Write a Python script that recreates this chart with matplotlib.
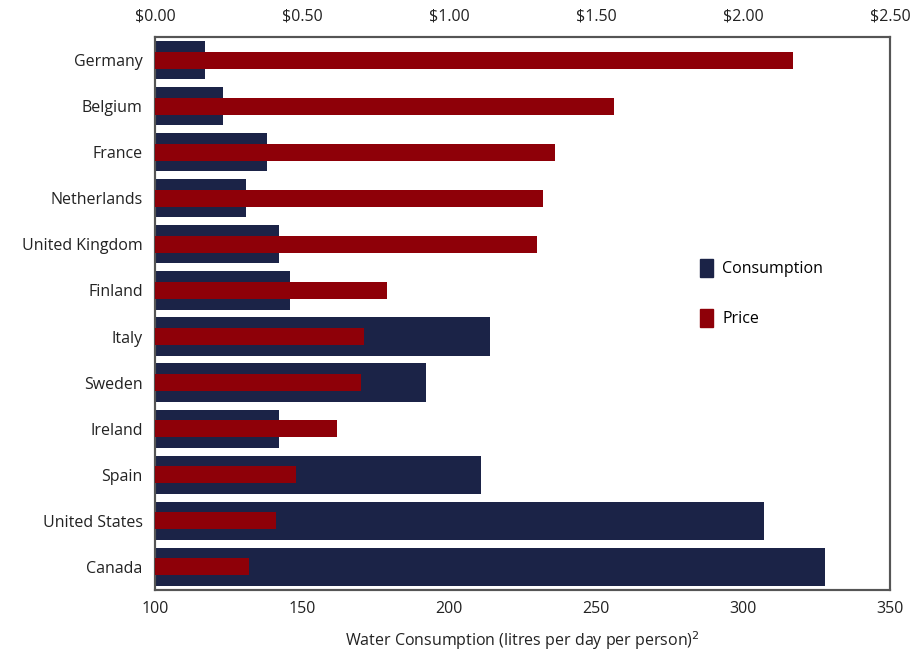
import matplotlib.pyplot as plt
import numpy as np
from matplotlib.patches import Patch

# ---------------------- data ----------------------
countries = ["Germany", "Belgium", "France", "Netherlands", "United Kingdom", "Finland",
             "Italy", "Sweden", "Ireland", "Spain", "United States", "Canada"]
consumption = [117, 123, 138, 131, 142, 146, 214, 192, 142, 211, 307, 328]
price = [2.17, 1.56, 1.36, 1.32, 1.30, 0.79, 0.71, 0.70, 0.62, 0.48, 0.41, 0.32]

navy = "#1b2347"
red = "#8e0008"
fs = 11.5

plt.rcParams['font.family'] = ['Open Sans', 'DejaVu Sans']

fig, ax = plt.subplots(figsize=(9.18, 6.57), dpi=100)
fig.subplots_adjust(left=0.169, right=0.9695, top=0.9437, bottom=0.102)

y = np.arange(len(countries))

# consumption bars start at 100 on the bottom axis
ax.barh(y, np.array(consumption) - 100, left=100, height=0.83, color=navy, zorder=2)
ax.set_xlim(100, 350)
ax.set_ylim(len(countries) - 0.5, -0.5)
ax.set_yticks(y)
ax.set_yticklabels(countries, fontsize=fs, color="#222222")
ax.set_xticks([100, 150, 200, 250, 300, 350])
ax.tick_params(axis='both', length=0, labelsize=fs, colors="#222222")
ax.tick_params(axis='x', pad=8)
ax.tick_params(axis='y', pad=9)
ax.set_xlabel("Water Consumption (litres per day per person)$^{2}$", fontsize=fs,
              color="#222222", labelpad=9)

# price on the top axis
ax2 = ax.twiny()
ax2.barh(y, price, height=0.37, color=red, zorder=3)
ax2.set_xlim(0, 2.5)
ax2.set_xticks([0, 0.5, 1.0, 1.5, 2.0, 2.5])
ax2.set_xticklabels([f"${v:.2f}" for v in [0, 0.5, 1.0, 1.5, 2.0, 2.5]])
ax2.tick_params(axis='x', length=0, labelsize=fs, colors="#222222", pad=9)

for a in (ax, ax2):
    for s in a.spines.values():
        s.set_color("#555555")
        s.set_linewidth(1.5)

handles = [Patch(color=navy, label="Consumption"), Patch(color=red, label="Price")]
ax.legend(handles=handles, loc="upper left", bbox_to_anchor=(0.722, 0.624), frameon=False,
          fontsize=fs, handlelength=0.8, handleheight=1.3, labelspacing=2.0,
          handletextpad=0.6)

plt.savefig("out.png", dpi=100)
